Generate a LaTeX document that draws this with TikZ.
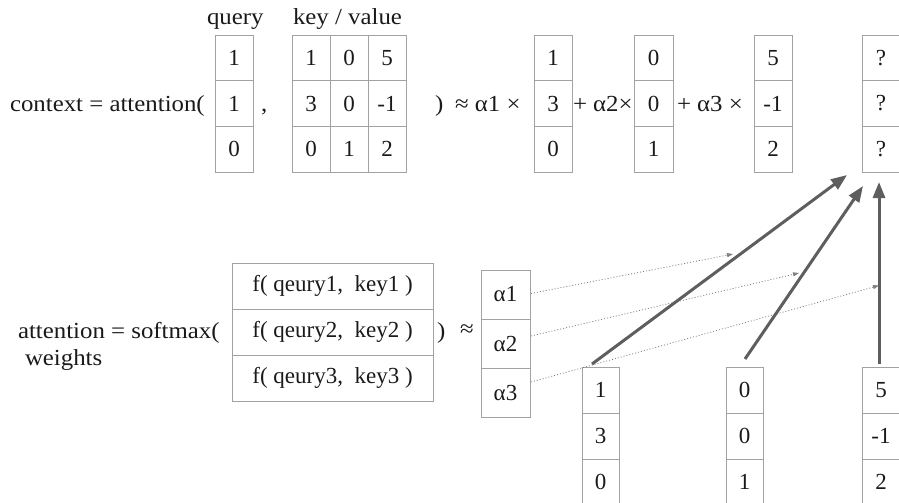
\documentclass[tikz,border=0pt]{standalone}
\usepackage{fontspec}
\setmainfont{Liberation Serif}
\usetikzlibrary{arrows.meta,calc}
\definecolor{boxgray}{HTML}{A2A2A2}
\definecolor{arrgray}{HTML}{5E5E5E}
\definecolor{dotgray}{HTML}{808080}
\definecolor{txt}{HTML}{1A1A1A}
\newcommand\wide[1]{\scalebox{1.08}[1]{#1}}
\begin{document}
\begin{tikzpicture}[x=1pt,y=-1pt,
  every node/.style={inner sep=0pt,outer sep=0pt,text=txt,font=\fontsize{23}{27}\selectfont},
  cell/.style={draw=boxgray,line width=0.9pt,minimum width=38pt,minimum height=45.67pt},
  fcell/.style={draw=boxgray,line width=0.9pt,minimum width=201pt,minimum height=46pt,font=\fontsize{23}{27}\selectfont},
  acell/.style={draw=boxgray,line width=0.9pt,minimum width=49pt,minimum height=49pt},
  bcell/.style={draw=boxgray,line width=0.9pt,minimum width=37pt,minimum height=46pt},
  lbl/.style={anchor=base west},
  thick arrow/.style={draw=arrgray,line width=3pt,-{Triangle[length=16pt,width=12pt]}},
  dot arrow/.style={draw=dotgray,line width=0.8pt,dash pattern=on 1pt off 2pt,-{Triangle[length=6pt,width=4pt]}}]
\useasboundingbox (0,0) rectangle (899,503);
\clip (0,0) rectangle (899,503);

% labels top
\node[lbl] (lq) at (207,25) {\wide{query}};
\node[lbl] (lkv) at (293,25) {\wide{key / value}};
\node[lbl] (ctx) at (10,111) {\wide{context = attention(}};
\node[lbl] (comma) at (261,111) {\wide{,}};
\node[lbl] (rp1) at (435,111) {\wide{)}};
\node[lbl] (t1) at (455,111) {\wide{≈ α1 ×}};
\node[lbl] (t2) at (573,111) {\wide{+ α2×}};
\node[lbl] (t3) at (677,111) {\wide{+ α3 ×}};

% query column
\foreach \v [count=\i] in {1,1,0}
  \node[cell] (q\i) at (234,{57.83+45.67*(\i-1)}) {\v};
% key / value matrix
\foreach \a/\b/\c [count=\i] in {1/0/5,3/0/-1,0/1/2}{
  \node[cell] (k\i a) at (311,{57.83+45.67*(\i-1)}) {\a};
  \node[cell] (k\i b) at (349,{57.83+45.67*(\i-1)}) {\b};
  \node[cell] (k\i c) at (387,{57.83+45.67*(\i-1)}) {\c};
}
% value columns
\foreach \a/\b/\c/\d [count=\i] in {1/0/5/?,3/0/-1/?,0/1/2/?}{
  \node[cell] (v\i a) at (553,{57.83+45.67*(\i-1)}) {\a};
  \node[cell,minimum width=39pt] (v\i b) at (653.5,{57.83+45.67*(\i-1)}) {\b};
  \node[cell] (v\i c) at (773,{57.83+45.67*(\i-1)}) {\c};
  \node[cell] (r\i) at (881,{57.83+45.67*(\i-1)}) {\d};
}

% bottom labels
\node[lbl] (att) at (18,338) {\wide{attention = softmax(}};
\node[lbl] (wts) at (25,365) {\wide{weights}};
\node[lbl] (rp2) at (437,338) {\wide{)}};
\node[lbl] (ap2) at (460,336) {\wide{≈}};

% f box
\foreach \i in {1,2,3}
  \node[fcell] (f\i) at (332.5,{286+46*(\i-1)}) {f( qeury\i,~~key\i~)};
% alpha box
\foreach \i in {1,2,3}
  \node[acell] (al\i) at (505.5,{294.5+49*(\i-1)}) {α\i};
% bottom value columns
\foreach \a/\b/\c [count=\i] in {1/0/5,3/0/-1,0/1/2}{
  \node[bcell] (b\i a) at (600.5,{390+46*(\i-1)}) {\a};
  \node[bcell] (b\i b) at (744.5,{390+46*(\i-1)}) {\b};
  \node[bcell,minimum width=38pt] (b\i c) at (881,{390+46*(\i-1)}) {\c};
}

% arrow anchors
\coordinate (s1) at (592,364);
\coordinate (s2) at (745,359);
\coordinate (s3) at (879,364);
\coordinate (e1) at (847,175);
\coordinate (e2) at (863,186);
\coordinate (e3) at (879,182);
\coordinate (d1) at (733,254);
\coordinate (d2) at (799,273);
\coordinate (d3) at (879,285.5);

\draw[dot arrow] ($(al1.east)+(1,-1)$) -- (d1);
\draw[dot arrow] ($(al2.east)+(1,-7.5)$) -- (d2);
\draw[dot arrow] ($(al3.east)+(1,-10.5)$) -- (d3);

\draw[thick arrow] (s1) -- (e1);
\draw[thick arrow] (s2) -- (e2);
\draw[thick arrow] (s3) -- (e3);
\end{tikzpicture}
\end{document}
